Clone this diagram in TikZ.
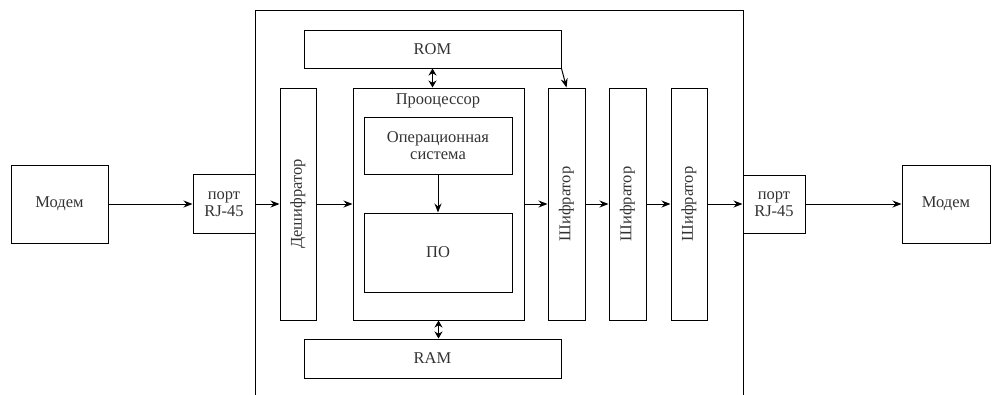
\documentclass[tikz,border=0pt]{standalone}
\usepackage{fontspec}
\setmainfont{Liberation Serif}
\usetikzlibrary{arrows.meta}

\tikzset{
  blk/.style={draw, line width=1pt, inner sep=1pt, align=center, text=black!80, font=\fontsize{16.5}{17}\selectfont},
  flow/.style={-{Stealth[length=9pt,width=7pt]}, line width=1pt},
  bus/.style={{Stealth[length=7pt,width=8pt]}-{Stealth[length=7pt,width=8pt]}, line width=1.4pt}
}

\begin{document}
\begin{tikzpicture}[x=1pt,y=-1pt]
                \clip (0,0) rectangle (992,394);
                \node[blk, minimum width=488pt, minimum height=400pt] (unit) at (499,210) {};
                \node[blk, minimum width=97pt, minimum height=78pt] (M1) at (59.5,204) {Модем};
                \node[blk, minimum width=62pt, minimum height=59pt] (P1) at (224,204) {порт\\RJ-45};
                \node[blk, minimum width=36pt, minimum height=232pt] (D) at (298,204) {\rotatebox{90}{Дешифратор}};
                \node[blk, minimum width=257pt, minimum height=38pt] (ROM) at (432.5,49) {ROM};
                \node[blk, minimum width=257pt, minimum height=39pt] (RAM) at (432.5,358.5) {RAM};
                \node[blk, minimum width=171pt, minimum height=232pt] (CPU) at (438.5,204) {};
                \node[font=\fontsize{16.5}{17}\selectfont, text=black!80, anchor=north, inner sep=2pt] (CPUname) at (438,91) {Прооцессор};
                \node[blk, minimum width=148pt, minimum height=57pt] (OS) at (438,145.5) {Операционная\\система};
                \node[blk, minimum width=148pt, minimum height=79pt] (PO) at (438,252.5) {ПО};
                \node[blk, minimum width=37pt, minimum height=232pt] (S1) at (566.5,204) {\rotatebox{90}{Шифратор}};
                \node[blk, minimum width=37pt, minimum height=232pt] (S2) at (627.5,204) {\rotatebox{90}{Шифратор}};
                \node[blk, minimum width=36pt, minimum height=232pt] (S3) at (689,204) {\rotatebox{90}{Шифратор}};
                \node[blk, minimum width=62pt, minimum height=58pt] (P2) at (774,204) {порт\\RJ-45};
                \node[blk, minimum width=88pt, minimum height=78pt] (M2) at (946,204) {Модем};
                % main data path
                \draw[flow] (M1.east) -- (P1.west);
                \draw[flow] (P1.east) -- (D.west);
                \draw[flow] (D.east) -- (CPU.west);
                \draw[flow] (CPU.east) -- (S1.west);
                \draw[flow] (S1.east) -- (S2.west);
                \draw[flow] (S2.east) -- (S3.west);
                \draw[flow] (S3.east) -- (P2.west);
                \draw[flow] (P2.east) -- (M2.west);
                % memory and processor internals
                \draw[bus] (ROM.south) -- (ROM.south |- CPU.north);
                \draw[bus] (CPU.south) -- (CPU.south |- RAM.north);
                \draw[flow] (OS.south) -- (PO.north);
                \draw[flow] (ROM.south east) -- (S1.north);
            \end{tikzpicture}
\end{document}
